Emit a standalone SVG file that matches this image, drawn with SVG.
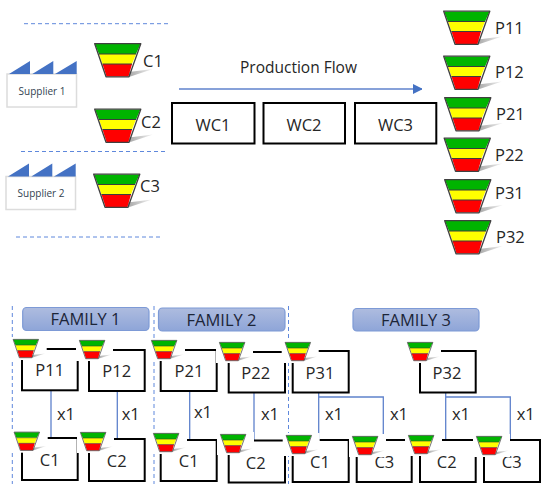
<svg xmlns="http://www.w3.org/2000/svg" xmlns:xlink="http://www.w3.org/1999/xlink" width="546" height="484" viewBox="0 0 546 484">
<style>
text{font-family:"Open Sans","Noto Sans","Liberation Sans",sans-serif;fill:#262626}
.l{font-size:16.500px}
.c{font-size:16.500px;text-anchor:middle}
.s{font-size:10px;text-anchor:middle;fill:#333f50}
.f{font-size:16.500px;text-anchor:middle;fill:#1c2538}
.box{fill:none;stroke:#000;stroke-width:2}
.dash{fill:none;stroke:#5f88dc;stroke-width:1;stroke-dasharray:4 3}
.conn{fill:none;stroke:#5f82cc;stroke-width:1.300}
.pill{fill:url(#pg);stroke:#7d9ad6;stroke-width:1.200}
.fac{fill:#fff;stroke:#dcdcdc;stroke-width:1.500}
.tri{fill:#4472c4}
</style>
<defs>
<linearGradient id="pg" x1="0" y1="0" x2="0" y2="1"><stop offset="0" stop-color="#aebcdf"/><stop offset="1" stop-color="#8ea5d8"/></linearGradient>
<linearGradient id="sh" x1="0" y1="0" x2="1" y2="0"><stop offset="0" stop-color="#a8a8a8"/><stop offset="1" stop-color="#f2f2f2"/></linearGradient>
<marker id="arr" markerUnits="userSpaceOnUse" markerWidth="10" markerHeight="10" refX="9" refY="5" orient="auto"><path d="M0 0L9 4.500V5.500L0 10z" fill="#4472c4"/></marker>
<g id="fun">
<path d="M35 34L59 26L35 29z" fill="url(#sh)"/>
<path d="M1 1H46.500L42 11H5z" fill="#00b400"/>
<path d="M5 11H42L38 21H8.500z" fill="#ffff00"/>
<path d="M8.500 21H38L34.500 33.500H12.500z" fill="#ff0000"/>
<path d="M5 11H42M8.500 21H38" fill="none" stroke="#3c3c3c" stroke-width="1"/>
<path d="M.7 .7H46.800L35 33.800H12z" fill="none" stroke="#404040" stroke-width="1.300" stroke-linejoin="round"/>
</g>
<g id="sf"><rect x="-3" y="-2" width="37" height="23" fill="#fff"/><use href="#fun" transform="scale(.553)"/></g>
<g id="factory">
<rect class="fac" x="7" y="74" width="69.500" height="33"/>
<path class="tri" d="M9 74L30 61V74zM32.300 74L53.300 61V74zM55 74L76.700 61V74z"/>
</g>
</defs>
<g id="separators">
<path class="dash" d="M24 23.700H171M21 151.500H168M16 237H163"/>
<path class="dash" d="M12.300 306V484M154 306V484M288.500 306V484"/>
</g>
<g id="connectors">
<path class="conn" d="M179 89H422" marker-end="url(#arr)"/>
<path class="conn" d="M51 390V439M117.300 391V439M189.700 391V440M254 392V440"/>
<path class="conn" d="M318.700 392V440M318.700 397H383.300V440"/>
<path class="conn" d="M445.700 392V440M445.700 397H510.300V440"/>
</g>
<g id="supplier1"><use href="#factory"/><text class="s" x="42" y="94.500">Supplier 1</text></g>
<g id="supplier2"><use href="#factory" transform="translate(-1 102.500)"/><text class="s" x="41" y="197">Supplier 2</text></g>
<g id="flow-label"><text class="l" style="font-size:15.500px" x="298.500" y="73" text-anchor="middle">Production Flow</text></g>
<g id="wc1"><rect class="box" x="172" y="103" width="82.500" height="40.500"/><text class="c" x="213" y="130.500">WC1</text></g>
<g id="wc2"><rect class="box" x="263.500" y="103" width="81.500" height="40.500"/><text class="c" x="304" y="130.500">WC2</text></g>
<g id="wc3"><rect class="box" x="355" y="103" width="81.300" height="40.500"/><text class="c" x="395.500" y="130.500">WC3</text></g>
<g id="c1"><use href="#fun" x="94" y="43"/><text class="l" x="143" y="66.500">C1</text></g>
<g id="c2"><use href="#fun" x="94" y="108.500"/><text class="l" x="141" y="128">C2</text></g>
<g id="c3"><use href="#fun" x="93" y="173.500"/><text class="l" x="140" y="191.500">C3</text></g>
<g id="p11"><use href="#fun" x="443" y="10.500"/><text class="l" x="495" y="34">P11</text></g>
<g id="p12"><use href="#fun" x="443" y="55.500"/><text class="l" x="495" y="78">P12</text></g>
<g id="p21"><use href="#fun" x="444" y="97"/><text class="l" x="496" y="120">P21</text></g>
<g id="p22"><use href="#fun" x="443.500" y="137.500"/><text class="l" x="495" y="161">P22</text></g>
<g id="p31"><use href="#fun" x="444" y="179"/><text class="l" x="495" y="199">P31</text></g>
<g id="p32"><use href="#fun" x="444" y="220"/><text class="l" x="496" y="243">P32</text></g>
<g id="family1"><rect class="pill" x="22.700" y="307.500" width="126.300" height="23" rx="4"/><text class="f" x="85.500" y="325">FAMILY 1</text></g>
<g id="family2"><rect class="pill" x="158.500" y="308" width="126.500" height="23" rx="4"/><text class="f" x="221.500" y="326">FAMILY 2</text></g>
<g id="family3"><rect class="pill" x="353" y="308.500" width="126" height="22.500" rx="4"/><text class="f" x="416" y="326">FAMILY 3</text></g>
<g id="n-p11"><rect class="box" x="22" y="349" width="55.700" height="41.300"/><text class="c" x="49.700" y="376">P11</text><use href="#sf" x="12.700" y="339"/></g>
<g id="n-p12"><rect class="box" x="89" y="350" width="55.700" height="41"/><text class="c" x="116.700" y="377">P12</text><use href="#sf" x="79" y="340"/></g>
<g id="n-p21"><rect class="box" x="160.700" y="350" width="56" height="41"/><text class="c" x="189" y="377">P21</text><use href="#sf" x="151" y="340"/></g>
<g id="n-p22"><rect class="box" x="228.700" y="352" width="56.300" height="40.500"/><text class="c" x="255.700" y="379">P22</text><use href="#sf" x="219" y="342"/></g>
<g id="n-p31"><rect class="box" x="292.700" y="351" width="56" height="41.500"/><text class="c" x="320" y="378.500">P31</text><use href="#sf" x="284.700" y="342"/></g>
<g id="n-p32"><rect class="box" x="420" y="351" width="55.700" height="41.500"/><text class="c" x="447" y="378.500">P32</text><use href="#sf" x="407" y="342"/></g>
<g id="n-c1a"><rect class="box" x="22" y="438" width="55.700" height="42"/><text class="c" x="49.700" y="466">C1</text><use href="#sf" x="13.700" y="431.700"/></g>
<g id="n-c2a"><rect class="box" x="89" y="439" width="55.700" height="42"/><text class="c" x="116.700" y="467">C2</text><use href="#sf" x="80" y="432"/></g>
<g id="n-c1b"><rect class="box" x="160.700" y="440" width="56" height="41"/><text class="c" x="188.700" y="467">C1</text><use href="#sf" x="153" y="433"/></g>
<g id="n-c2b"><rect class="box" x="228.700" y="440.500" width="56.300" height="42"/><text class="c" x="255.700" y="469">C2</text><use href="#sf" x="220" y="434"/></g>
<g id="n-c1c"><rect class="box" x="292.700" y="440" width="56" height="42"/><text class="c" x="320" y="468">C1</text><use href="#sf" x="285.700" y="435"/></g>
<g id="n-c3a"><rect class="box" x="356.700" y="440" width="55" height="42"/><text class="c" x="384.300" y="468">C3</text><use href="#sf" x="352" y="436"/></g>
<g id="n-c2c"><rect class="box" x="420" y="440" width="55.700" height="42"/><text class="c" x="446.700" y="468">C2</text><use href="#sf" x="408" y="435"/></g>
<g id="n-c3b"><rect class="box" x="484" y="440" width="56" height="42"/><text class="c" x="511.700" y="468">C3</text><use href="#sf" x="476" y="436"/></g>
<g id="edge-labels">
<text class="c" x="66" y="420">x1</text><text class="c" x="130.700" y="420">x1</text><text class="c" x="203" y="418">x1</text><text class="c" x="270" y="420">x1</text><text class="c" x="334" y="420">x1</text><text class="c" x="399" y="420">x1</text><text class="c" x="461" y="420">x1</text><text class="c" x="525.700" y="420">x1</text>
</g>
</svg>
